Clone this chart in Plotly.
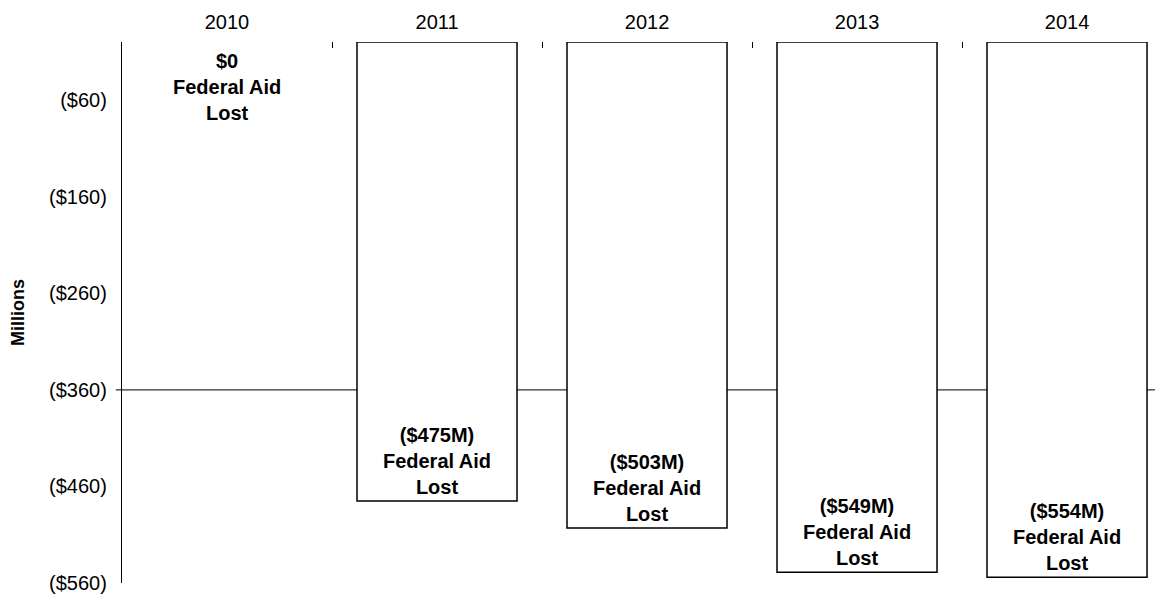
import plotly.graph_objects as go

years = ["2010", "2011", "2012", "2013", "2014"]
aid_lost = [0, -475, -503, -549, -554]
bar_labels = ["$0", "($475M)", "($503M)", "($549M)", "($554M)"]
tick_vals = [-60, -160, -260, -360, -460, -560]
tick_text = ["($60)", "($160)", "($260)", "($360)", "($460)", "($560)"]

font_name = "Liberation Sans, Arial, sans-serif"

texts = [f"<b>{lab}<br>Federal Aid<br>Lost</b>" for lab in bar_labels]
# no outline on the empty 2010 bar
outline = [0 if v == 0 else 1.5 for v in aid_lost]

fig = go.Figure()

fig.add_trace(go.Bar(
    x=years,
    y=aid_lost,
    width=0.762,
    marker=dict(color="white", line=dict(color="black", width=outline)),
    text=[""] + texts[1:],
    textposition="inside",
    insidetextanchor="end",
    textangle=0,
    textfont=dict(family=font_name, size=20, color="black"),
    cliponaxis=False,
    showlegend=False,
))

# 2010 has a zero bar, so its label hangs from the top
fig.add_annotation(
    x=years.index("2010"), y=aid_lost[0], text=texts[0], showarrow=False,
    xref="x", yref="y",
    yanchor="top", yshift=-6,
    font=dict(family=font_name, size=20, color="black"),
)

# horizontal axis line crossing at -360
fig.add_shape(type="line", xref="paper", yref="y",
              x0=-0.006, x1=1, y0=-360, y1=-360,
              line=dict(color="#333333", width=1.2), layer="below")

# page body keeps an 8px margin, so the figure is sized to fit inside it
fig.update_layout(
    width=1155,
    height=586,
    margin=dict(l=114, r=0, t=34, b=11),
    plot_bgcolor="white",
    paper_bgcolor="white",
    font=dict(family=font_name, size=20, color="black"),
    xaxis=dict(
        side="top",
        type="category",
        range=[-0.5, 4.457],
        automargin=False,
        showline=False,
        showgrid=False,
        ticks="inside",
        tickson="boundaries",
        ticklen=6,
        tickcolor="black",
        tickwidth=1,
        ticklabelstandoff=8,
        tickfont=dict(size=20),
    ),
    yaxis=dict(
        range=[-560, 0],
        automargin=False,
        tickvals=tick_vals,
        ticktext=tick_text,
        showgrid=False,
        zeroline=False,
        showline=True,
        linecolor="black",
        linewidth=1.2,
        ticks="",
        ticklabelstandoff=10,
        tickfont=dict(size=20),
        title=dict(text="<b>Millions</b>", font=dict(size=18), standoff=32),
    ),
)

fig.write_html("out.html")
